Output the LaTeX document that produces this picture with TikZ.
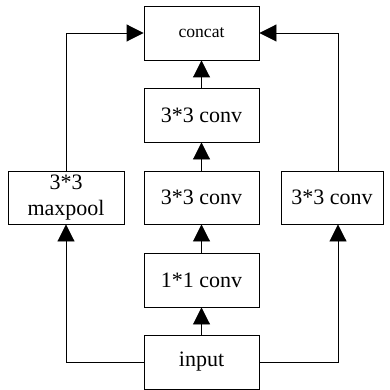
\documentclass[tikz,border=0pt]{standalone}
\usepackage{fontspec}
\setmainfont{Liberation Serif}
\usetikzlibrary{arrows.meta}
\begin{document}
\begin{tikzpicture}[x=1pt,y=-1pt,
  blk/.style={draw, line width=0.9pt, minimum width=115pt, minimum height=54pt,
    inner sep=0pt, align=center, font=\fontsize{22}{23}\selectfont},
  link/.style={line width=0.9pt, -{Triangle[length=17pt,width=17pt]}}]
\useasboundingbox (0,0) rectangle (389,390);
% central column
\node[blk, font=\fontsize{17.6}{19}\selectfont] (concat) at (201.5,33) {concat};
\node[blk] (c3a) at (201.5,115) {3*3 conv};
\node[blk, minimum height=53pt] (c3b) at (201.5,197.5) {3*3 conv};
\node[blk] (c1) at (201.5,280) {1*1 conv};
\node[blk] (input) at (201.5,362) {input};
% side branches
\node[blk, minimum width=116pt, minimum height=53pt, font=\fontsize{22}{26}\selectfont] (pool) at (66,197.5) {3*3\\maxpool};
\node[blk, minimum width=102pt, minimum height=53pt] (rconv) at (332,197.5) {3*3 conv};
% corner points of the side routes
\coordinate (lb) at (66,362);
\coordinate (lt) at (66,33);
\coordinate (rb) at (338,362);
\coordinate (rt) at (338,33);
% connectors
\draw[link] (input) -- (c1);
\draw[link] (c1) -- (c3b);
\draw[link] (c3b) -- (c3a);
\draw[link] (c3a) -- (concat);
\draw[link] (input.west) -- (lb) -- (pool.south);
\draw[link] (pool.north) -- (lt) -- (concat.west);
\draw[link] (input.east) -- (rb) -- (rconv.south -| rb);
\draw[link] (rconv.north -| rt) -- (rt) -- (concat.east);
\end{tikzpicture}
\end{document}
